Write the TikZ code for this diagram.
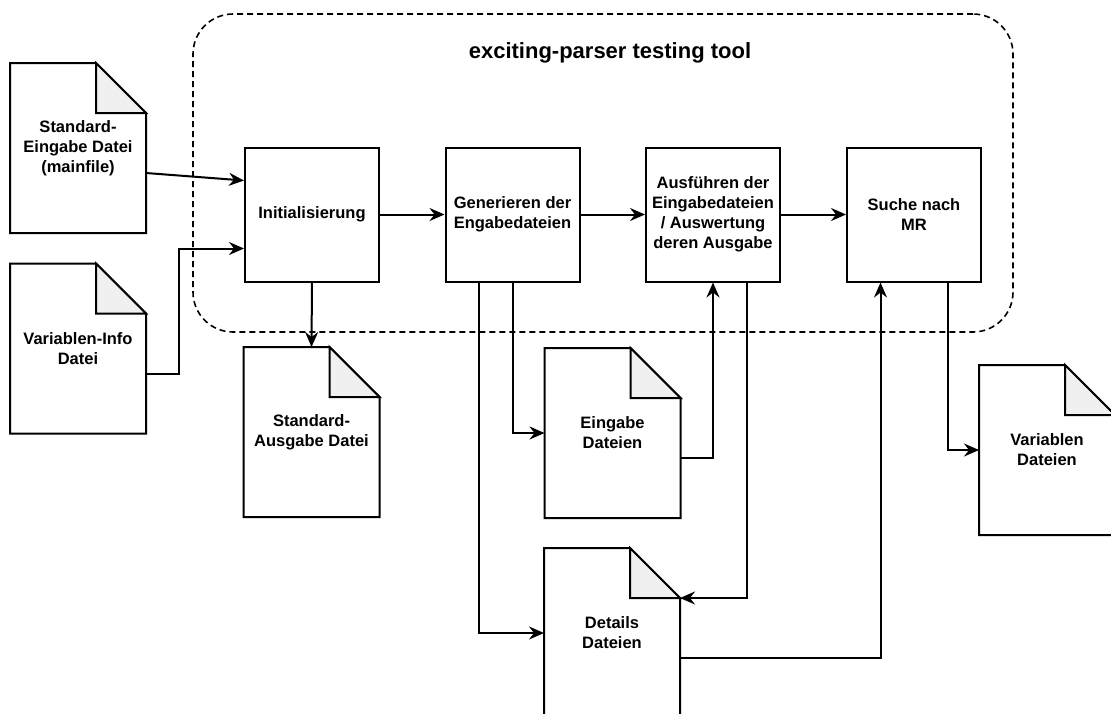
\documentclass[tikz,border=0pt]{standalone}
\usepackage{fontspec}
\setmainfont{Liberation Sans}
\usepackage{tikz}
\usetikzlibrary{positioning,arrows.meta}

\begin{document}
\begin{tikzpicture}[x=1pt, y=-1pt, line width=2pt,
        pfeil/.style={-{Stealth[length=15pt, width=13pt, inset=5pt]}},
        schritt/.style={draw, minimum width=134pt, minimum height=134pt,
            align=center, font=\bfseries\fontsize{16.5}{20}\selectfont},
        datei/.style={minimum width=134pt, minimum height=168pt, align=center,
            font=\bfseries\fontsize{16.5}{20}\selectfont,
            append after command={\pgfextra{\edef\dnode{\tikzlastnode}
                \draw[line join=miter] (\dnode.north west)
                    -- ([xshift=-50pt]\dnode.north east)
                    -- ([yshift=-50pt]\dnode.north east)
                    -- (\dnode.south east) -- (\dnode.south west) -- cycle;
                \filldraw[fill=black!6, line join=miter]
                    ([xshift=-50pt]\dnode.north east)
                    -- ([xshift=-50pt, yshift=-50pt]\dnode.north east)
                    -- ([yshift=-50pt]\dnode.north east) -- cycle;}}},
        rahmen/.style={draw, line width=1.6pt, dash pattern=on 6pt off 4pt,
            rounded corners=40pt, minimum width=820pt, minimum height=318pt}]

        \useasboundingbox (0,0) rectangle (1111,713);

        % dashed frame of the tool
        \node[rahmen] (tool) at (603,173) {};
        \node[font=\bfseries\fontsize{22}{26}\selectfont] (titel) at (610,53)
            {exciting-parser testing tool};

        % processing steps
        \node[schritt] (init)  at (312,214.5)   {Initialisierung};
        \node[schritt] (gen)   at (512.5,214.5) {Generieren der\\Engabedateien};
        \node[schritt] (ausf)  at (713,214.5)   {Ausführen der\\Eingabedateien\\/ Auswertung\\deren Ausgabe};
        \node[schritt] (suche) at (914,214.5)   {Suche nach\\MR};

        % files
        \node[datei] (mainfile)  at (78,148)     {Standard-\\Eingabe Datei\\(mainfile)};
        \node[datei] (vinfo)     at (78,348.5)   {Variablen-Info\\Datei};
        \node[datei] (ausgabe)   at (311.5,432)  {Standard-\\Ausgabe Datei};
        \node[datei] (eingabe)   at (612.5,433)  {Eingabe\\Dateien};
        \node[datei] (details)   at (612,633)    {Details\\Dateien};
        \node[datei] (variablen) at (1047,450)   {Variablen\\Dateien};

        % inputs
        \draw[pfeil] ([yshift=-25pt]mainfile.east) -- ([yshift=34pt]init.west);
        \draw[pfeil] ([yshift=-25pt]vinfo.east) -- ++(33pt,0) |- ([yshift=-34pt]init.west);

        % main flow
        \draw[pfeil] (init) -- (gen);
        \draw[pfeil] (gen) -- (ausf);
        \draw[pfeil] (ausf) -- (suche);

        % outputs and feedback
        \draw[pfeil] (init.south) -- (ausgabe.north);
        \draw[pfeil] (gen.south) |- (eingabe.west);
        \draw[pfeil] ([yshift=-25pt]eingabe.east) -| (ausf.south);
        \draw[pfeil] ([xshift=-33.5pt]gen.south) |- (details.west);
        \draw[pfeil] ([xshift=33.5pt]ausf.south) |- ([yshift=-50pt]details.north east);
        \draw[pfeil] ([yshift=-25pt]details.east) -| ([xshift=-33.5pt]suche.south);
        \draw[pfeil] ([xshift=33.5pt]suche.south) |- (variablen.west);

    \end{tikzpicture}
\end{document}
